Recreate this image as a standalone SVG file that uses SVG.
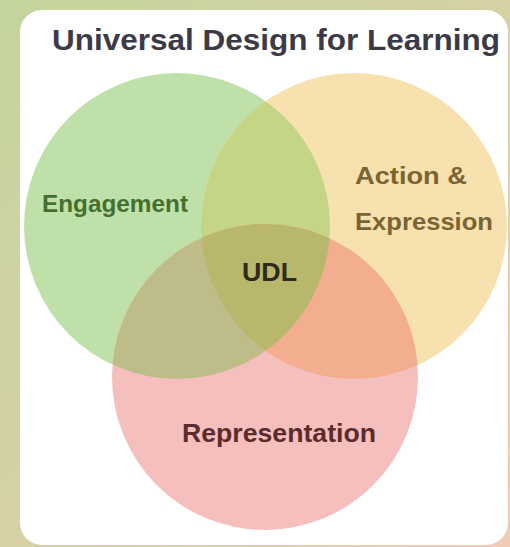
<svg xmlns="http://www.w3.org/2000/svg" width="510" height="547" viewBox="0 0 510 547">
  <defs>
    <linearGradient id="bg" x1="0" y1="0" x2="1" y2="1">
      <stop offset="0" stop-color="#c4d59d"/>
      <stop offset="0.5" stop-color="#d6d1a4"/>
      <stop offset="1" stop-color="#f1cbb6"/>
    </linearGradient>
    <clipPath id="clipG"><circle cx="177" cy="226" r="153"/></clipPath>
    <clipPath id="clipY"><circle cx="354" cy="226" r="153"/></clipPath>
    <style>
      .lbl { font-family: "Liberation Sans", "DejaVu Sans", sans-serif; font-weight: bold; }
    </style>
  </defs>
  <rect x="0" y="0" width="510" height="547" fill="url(#bg)"/>
  <rect x="20" y="10" width="488" height="535" rx="22" ry="22" fill="#ffffff"/>
  <text class="lbl" x="52" y="50" font-size="30" fill="#3b3a46" textLength="448" lengthAdjust="spacingAndGlyphs">Universal Design for Learning</text>

  <g id="engagement">
    <circle cx="177" cy="226" r="153" fill="#c0e0aa"/>
    <text class="lbl" x="42" y="212" font-size="24" fill="#44702f" textLength="146" lengthAdjust="spacingAndGlyphs">Engagement</text>
  </g>
  <g id="action-expression">
    <circle cx="354" cy="226" r="153" fill="#f7e1ae"/>
    <g clip-path="url(#clipG)">
      <circle cx="354" cy="226" r="153" fill="#c4d586"/>
    </g>
    <text class="lbl" x="355" y="184" font-size="24" fill="#7a6432" textLength="112" lengthAdjust="spacingAndGlyphs">Action &amp;</text>
    <text class="lbl" x="355" y="230" font-size="24" fill="#7a6432" textLength="138" lengthAdjust="spacingAndGlyphs">Expression</text>
  </g>
  <g id="representation">
    <circle cx="265" cy="377" r="153" fill="#f5bfbe"/>
    <g clip-path="url(#clipG)">
      <circle cx="265" cy="377" r="153" fill="#bebc88"/>
    </g>
    <g clip-path="url(#clipY)">
      <circle cx="265" cy="377" r="153" fill="#f2ae8e"/>
    </g>
    <text class="lbl" x="182" y="442" font-size="25" fill="#5c2c2c" textLength="194" lengthAdjust="spacingAndGlyphs">Representation</text>
  </g>
  <g id="udl">
    <g clip-path="url(#clipG)">
      <g clip-path="url(#clipY)">
        <circle cx="265" cy="377" r="153" fill="#b8b76c"/>
      </g>
    </g>
    <text class="lbl" x="242" y="281" font-size="26" fill="#2f2b1c" textLength="55" lengthAdjust="spacingAndGlyphs">UDL</text>
  </g>
  <g id="connectors"></g>
</svg>
